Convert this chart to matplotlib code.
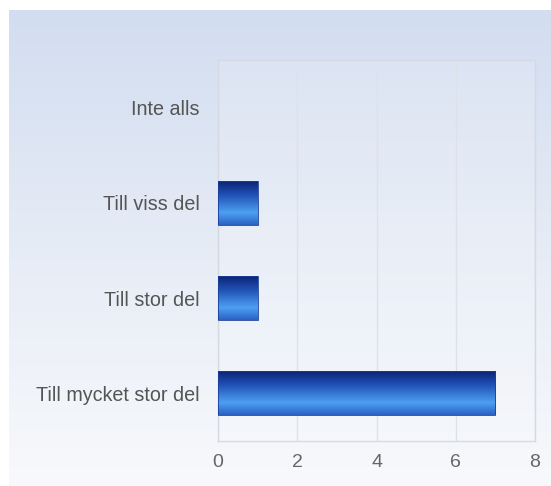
import numpy as np
import matplotlib.pyplot as plt
from matplotlib.colors import LinearSegmentedColormap
from matplotlib.patches import Rectangle

# data
categories = ["Till mycket stor del", "Till stor del", "Till viss del", "Inte alls"]
values = [7, 1, 1, 0]
xticks = [0, 2, 4, 6, 8]

plt.rcParams['font.family'] = ['Liberation Sans', 'DejaVu Sans']

fig = plt.figure(figsize=(5.51, 4.86), dpi=100)

# background gradient (light blue at top, almost white at bottom)
bg = fig.add_axes([9 / 551, 0, 1 - 9 / 551, 1 - 10 / 486], zorder=-10)
bg_cmap = LinearSegmentedColormap.from_list("bg", ["#d2ddf0", "#e6ecf6", "#f8f9fc"])
bg.imshow(np.linspace(0, 1, 256).reshape(-1, 1), aspect='auto', cmap=bg_cmap,
          extent=[0, 1, 0, 1], origin='upper')
bg.axis('off')

# plot area
left, right, top, bottom = 218, 535, 60, 441
ax = fig.add_axes([left / 551, 1 - bottom / 486, (right - left) / 551, (bottom - top) / 486])
ax.set_facecolor((1, 1, 1, 0.15))

ypos = np.arange(len(categories))
bar_h = 0.46
bars = ax.barh(ypos, values, height=bar_h, color='none', edgecolor='none')

bar_cmap = LinearSegmentedColormap.from_list(
    "bar", [(0, "#0c2473"), (0.3, "#1f4fb4"), (0.72, "#4d9ff2"), (1, "#2a62c4")])
grad = np.linspace(0, 1, 128).reshape(-1, 1)
for b in bars:
    w = b.get_width()
    if w <= 0:
        continue
    y0 = b.get_y()
    h = b.get_height()
    im = ax.imshow(grad, aspect='auto', cmap=bar_cmap,
                   extent=[0, w, y0, y0 + h], origin='upper', zorder=3)
    clip = Rectangle((0, y0), w, h, transform=ax.transData)
    im.set_clip_path(clip)
    ax.add_patch(Rectangle((0, y0), w, h, fill=False, edgecolor='#1a3f99',
                           linewidth=0.6, zorder=4))

ax.set_xlim(0, 8)
ax.set_ylim(-0.5, len(categories) - 0.5)
ax.set_xticks(xticks)
ax.set_yticks(ypos)
ax.set_yticklabels(categories)
ax.tick_params(axis='both', length=0, colors='#555555')
ax.tick_params(axis='y', labelsize=14.2, pad=13)
ax.tick_params(axis='x', labelsize=14, pad=9, labelcolor='#666666')
ax.grid(axis='x', color='#dde2ea', linewidth=1)
ax.set_axisbelow(True)
for s in ax.spines.values():
    s.set_color('#d4d9e2')
    s.set_linewidth(1)

fig.savefig("out.png", dpi=100)
